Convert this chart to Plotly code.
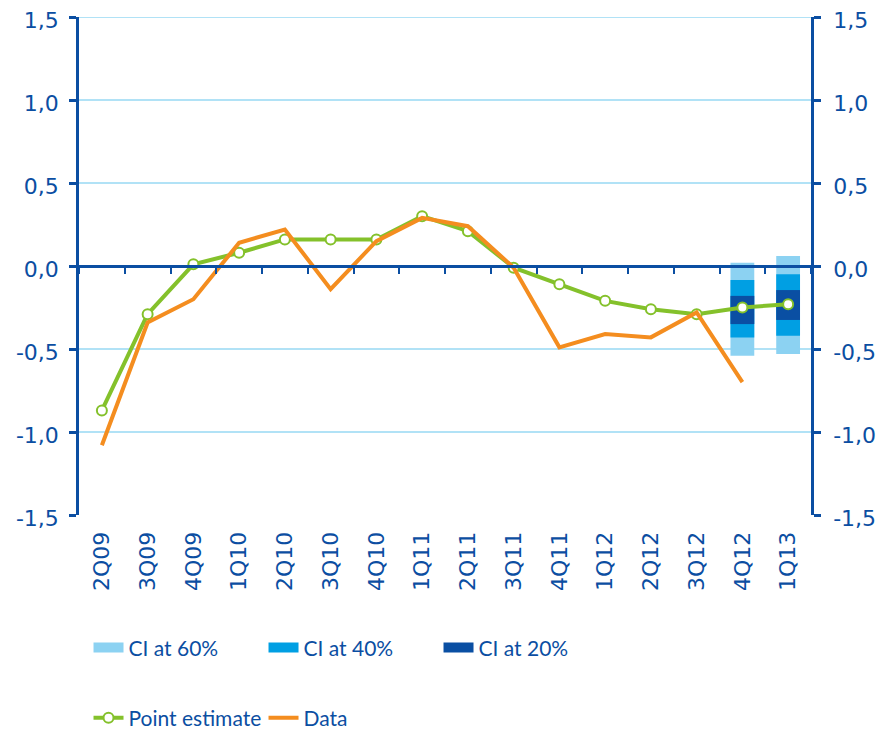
import plotly.graph_objects as go

categories = ["2Q09", "3Q09", "4Q09", "1Q10", "2Q10", "3Q10", "4Q10", "1Q11",
              "2Q11", "3Q11", "4Q11", "1Q12", "2Q12", "3Q12", "4Q12", "1Q13"]
point_estimate = [-0.87, -0.29, 0.01, 0.08, 0.16, 0.16, 0.16, 0.30,
                  0.21, -0.01, -0.11, -0.21, -0.26, -0.29, -0.25, -0.23]
data_values = [-1.08, -0.34, -0.20, 0.14, 0.22, -0.14, 0.15, 0.29,
               0.24, -0.01, -0.49, -0.41, -0.43, -0.28, -0.70, None]

ci_categories = ["4Q12", "1Q13"]
ci60_low = [-0.54, -0.53]
ci60_high = [0.02, 0.06]
ci40_low = [-0.43, -0.42]
ci40_high = [-0.085, -0.05]
ci20_low = [-0.35, -0.325]
ci20_high = [-0.18, -0.145]

y_tickvals = [-1.5, -1.0, -0.5, 0.0, 0.5, 1.0, 1.5]
y_ticktext = ["-1,5", "-1,0", "-0,5", "0,0", "0,5", "1,0", "1,5"]

DARK = "#0b4ea2"
GRID = "#b1e2f6"
FONT = "Lato"
TICKFONT = "DejaVu Sans"

fig = go.Figure()

for name, lo, hi, col in [("CI at 60%", ci60_low, ci60_high, "#8cd2f2"),
                          ("CI at 40%", ci40_low, ci40_high, "#009fe3"),
                          ("CI at 20%", ci20_low, ci20_high, "#0a4fa3")]:
    fig.add_trace(go.Bar(
        x=ci_categories, base=lo, y=[h - l for h, l in zip(hi, lo)],
        name=name, marker=dict(color=col, line=dict(width=0)),
        width=0.52, showlegend=False, hoverinfo="skip"))
    # legend swatch (wide block like the original key)
    fig.add_trace(go.Scatter(
        x=[None], y=[None], mode="lines", name=name,
        line=dict(color=col, width=15), legend="legend", hoverinfo="skip"))

fig.add_trace(go.Scatter(
    x=categories, y=point_estimate, name="Point estimate", mode="lines+markers",
    line=dict(color="#84c12b", width=4),
    marker=dict(symbol="circle", size=10, color="white",
                line=dict(color="#84c12b", width=2)),
    legend="legend2"))
fig.add_trace(go.Scatter(
    x=categories, y=data_values, name="Data", mode="lines",
    line=dict(color="#f48d1f", width=4), legend="legend2"))

# helper trace for the zero-line axis with category ticks
fig.add_trace(go.Scatter(x=categories, y=[None] * len(categories), xaxis="x2",
                         showlegend=False, hoverinfo="skip", mode="lines"))
# helper trace for right axis
fig.add_trace(go.Scatter(x=categories, y=[None] * len(categories), yaxis="y2",
                         showlegend=False, hoverinfo="skip", mode="lines"))

yaxis_common = dict(
    range=[-1.5, 1.5], tickvals=y_tickvals, ticktext=y_ticktext,
    showline=True, linecolor=DARK, linewidth=2.5,
    ticks="outside", ticklen=7, tickwidth=2.5, tickcolor=DARK,
    tickfont=dict(family=TICKFONT, size=22, color=DARK),
    ticklabeloverflow="allow", ticklabelshift=3,
    zeroline=False, fixedrange=True, automargin=False)

# the page body adds an 8px offset, so the figure is 876x724
fig.update_layout(
    width=876, height=724,
    margin=dict(l=71, r=73, t=9, b=217, autoexpand=False),
    plot_bgcolor="white", paper_bgcolor="white",
    barmode="overlay", showlegend=True,
    font=dict(family=FONT, color=DARK, size=21),
    xaxis=dict(type="category", categoryorder="array", categoryarray=categories,
               range=[-0.5, 15.5], showline=False, showgrid=False,
               ticks="outside", ticklen=7, tickcolor="rgba(0,0,0,0)",
               tickangle=-90, tickfont=dict(family=TICKFONT, size=22, color=DARK),
               zeroline=False, automargin=False),
    xaxis2=dict(type="category", categoryorder="array", categoryarray=categories,
                range=[-0.5, 15.5], overlaying="x", anchor="free", position=0.5,
                side="bottom", showline=True, linecolor=DARK, linewidth=3,
                ticks="outside", tickson="boundaries", ticklen=6, tickwidth=2,
                tickcolor=DARK, showticklabels=False, showgrid=False, zeroline=False),
    yaxis=dict(**yaxis_common, showgrid=True, gridcolor=GRID, gridwidth=2,
               ticklabelstandoff=6),
    yaxis2=dict(**yaxis_common, overlaying="y", side="right", showgrid=False,
                ticklabelstandoff=8),
    shapes=[dict(type="line", xref="paper", yref="y", x0=0, x1=1, y0=1.5, y1=1.5,
                 line=dict(color=GRID, width=2), layer="below")],
    legend=dict(orientation="h", x=0.013, xanchor="left", y=-0.267, yanchor="middle",
                entrywidth=130, entrywidthmode="pixels", bgcolor="rgba(0,0,0,0)",
                font=dict(family=FONT, size=21, color=DARK), traceorder="normal"),
    legend2=dict(orientation="h", x=0.013, xanchor="left", y=-0.408, yanchor="middle",
                 entrywidth=130, entrywidthmode="pixels", bgcolor="rgba(0,0,0,0)",
                 font=dict(family=FONT, size=21, color=DARK), traceorder="normal"),
)

fig.write_html("out.html")
